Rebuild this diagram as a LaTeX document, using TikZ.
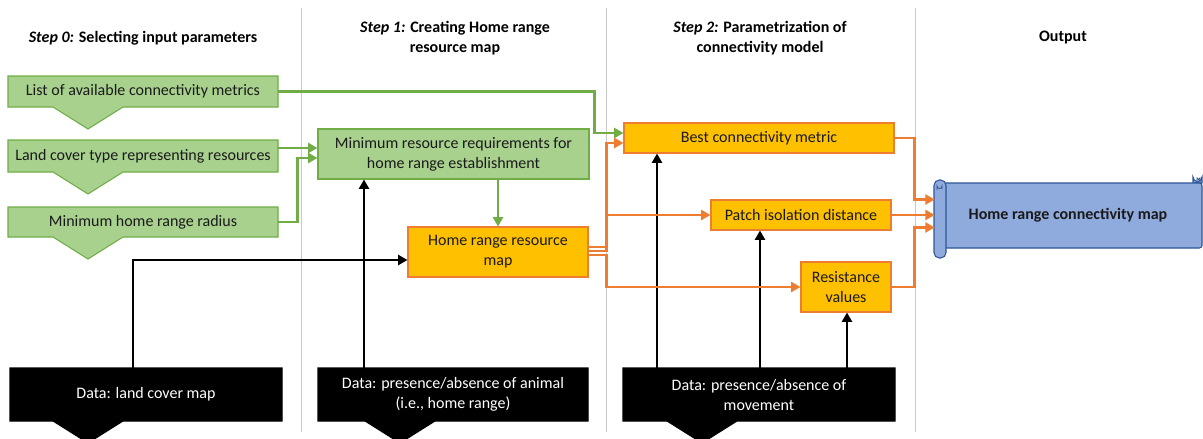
\documentclass[tikz,border=0pt]{standalone}
\usepackage{fontspec}
\setmainfont{Carlito}
\usetikzlibrary{arrows.meta,calc}
\definecolor{grfill}{HTML}{A9D18E}
\definecolor{grline}{HTML}{70AD47}
\definecolor{orfill}{HTML}{FFC000}
\definecolor{orline}{HTML}{ED7D31}
\definecolor{blfill}{HTML}{8FAADC}
\definecolor{blline}{HTML}{2F5597}
\definecolor{sepgray}{HTML}{C8C8C8}
\definecolor{txtcol}{HTML}{1A1A1A}
\begin{document}
\begin{tikzpicture}[x=0.75pt,y=-0.75pt,
  txt/.style={font=\fontsize{12}{15}\selectfont, text=txtcol, align=center, inner sep=0pt},
  hdr/.style={font=\fontsize{12}{15}\selectfont\bfseries, text=black, align=center, inner sep=0pt},
  greenbox/.style={fill=grfill, draw=grline, line width=0.8pt},
  orangebox/.style={fill=orfill, draw=orline, line width=0.8pt},
  blackbox/.style={fill=black, draw=black, line width=0.8pt},
  tip/.style={-{Triangle[length=7pt,width=7.5pt]}},
  garrow/.style={draw=grline, line width=2.1pt, tip},
  oarrow/.style={draw=orline, line width=2.1pt, tip},
  barrow/.style={draw=black, line width=2.2pt, tip},
  sep/.style={draw=sepgray, line width=0.6pt}
]
\useasboundingbox (0,0) rectangle (1203,439);

% separators
\draw[sep] (301,8) -- (301,432);
\draw[sep] (606,8) -- (606,432);
\draw[sep] (915,8) -- (915,432);

% headers
\node[hdr] (h0) at (143,38) {\textit{Step 0:} Selecting input parameters};
\node[hdr] (h1) at (455,38) {\textit{Step 1:} Creating Home range\\resource map};
\node[hdr] (h2) at (760,38) {\textit{Step 2:} Parametrization of\\connectivity model};
\node[hdr] (h3) at (1063,38) {Output};

% green input shapes (rectangle with downward triangle)
\foreach \yt/\yb in {76/107, 140/172, 207/237}{
  \fill[greenbox] (8,\yt) -- (278,\yt) -- (278,\yb) -- (123,\yb) -- (88,\yb+22) -- (53,\yb) -- (8,\yb) -- cycle;
}
\node[txt, minimum width=202.5pt, minimum height=23.25pt] (L1) at (143,91.5) {List of available connectivity metrics};
\node[txt, minimum width=202.5pt, minimum height=24pt] (L2) at (143,156) {Land cover type representing resources};
\node[txt, minimum width=202.5pt, minimum height=22.5pt] (L3) at (143,222) {Minimum home range radius};

% black data shapes
\foreach \xl/\xr/\xc in {10/282/88, 318/588/400, 623/895/702}{
  \fill[blackbox] (\xl,368) -- (\xr,368) -- (\xr,421) -- (\xc+35,421) -- (\xc,443) -- (\xc-35,421) -- (\xl,421) -- cycle;
}
\node[txt, text=white, minimum width=204pt, minimum height=39.75pt] (DA) at (146,394.5) {Data: land cover map};
\node[txt, text=white, minimum width=202.5pt, minimum height=39.75pt] (DB) at (453,394.5) {Data: presence/absence of animal\\(i.e., home range)};
\node[txt, text=white, minimum width=204pt, minimum height=39.75pt] (DC) at (759,394.5) {Data: presence/absence of\\movement};

% step 1 boxes
\node[txt, greenbox, minimum width=203.25pt, minimum height=37.5pt] (MR) at (453.5,154) {Minimum resource requirements for\\home range establishment};
\node[txt, orangebox, minimum width=135pt, minimum height=37.5pt] (HR) at (498,252) {Home range resource\\map};

% step 2 boxes
\node[txt, orangebox, minimum width=202.5pt, minimum height=22.5pt] (BCM) at (759,138) {Best connectivity metric};
\node[txt, orangebox, minimum width=135pt, minimum height=22.5pt] (PID) at (801,215) {Patch isolation distance};
\node[txt, orangebox, minimum width=67.5pt, minimum height=37.5pt] (RV) at (846,287) {Resistance\\values};

% output scroll
\filldraw[fill=blfill, draw=blline, line width=0.8pt]
  (1193,183) -- (1193,177) arc[start angle=180, end angle=0, radius=4.5] -- (1202,183) -- cycle;
\filldraw[fill=blfill, draw=blline, line width=0.8pt, rounded corners=2pt]
  (940,183) rectangle (1202,248);
\draw[blline, line width=0.6pt] (1197,183) -- (1197,178) arc[start angle=180, end angle=0, radius=1.5] -- (1200,183);
\filldraw[fill=blfill, draw=blline, line width=0.8pt, rounded corners=4pt]
  (934,180) rectangle (946,258);
\draw[blline, line width=0.6pt] (937,190) -- (937,186) arc[start angle=180, end angle=0, radius=2.5] -- (942,189);
\node[hdr, text=txtcol, minimum width=199.5pt, minimum height=48.75pt] (S) at (1068,215.5) {Home range connectivity map};

% green connectors
\draw[garrow] (L1.east) -- ++(316,0) |- ($(BCM.west)+(0,-5)$);
\draw[garrow] ($(L2.east)+(0,-8)$) -- ($(MR.west)+(0,-6)$);
\draw[garrow] (L3.east) -- ++(19,0) |- ($(MR.west)+(0,4)$);
\draw[garrow] (MR.south -| HR.north) -- (HR.north);

% black connectors
\coordinate (a1) at ($(DA.north)+(-13,0)$);
\draw[barrow] (a1) |- ($(HR.west)+(0,8)$);
\coordinate (b1) at ($(DB.north)+(-89,0)$);
\draw[barrow] (b1) -- (b1 |- MR.south);
\coordinate (c1) at ($(DC.north)+(-102,0)$);
\coordinate (c2) at ($(DC.north)+(1,0)$);
\coordinate (c3) at ($(DC.north)+(88,0)$);
\draw[barrow] (c1) -- (c1 |- BCM.south);
\draw[barrow] (c2) -- (c2 |- PID.south);
\draw[barrow] (c3) -- (c3 |- RV.south);

% orange connectors
\draw[oarrow] ($(HR.east)+(0,-5)$) -- ++(18,0) |- ($(BCM.west)+(0,5)$);
\draw[oarrow] ($(HR.east)+(0,-1)$) -- ++(18,0) |- (PID.west);
\draw[oarrow] ($(HR.east)+(0,3)$) -- ++(18,0) |- (RV.west);
\draw[oarrow] (BCM.east) -- ++(20,0) |- ($(S.west)+(0,-16)$);
\draw[oarrow] (PID.east) -- (PID.east -| S.west);
\draw[oarrow] (RV.east) -- ++(23,0) |- ($(S.west)+(0,12)$);
\end{tikzpicture}
\end{document}
